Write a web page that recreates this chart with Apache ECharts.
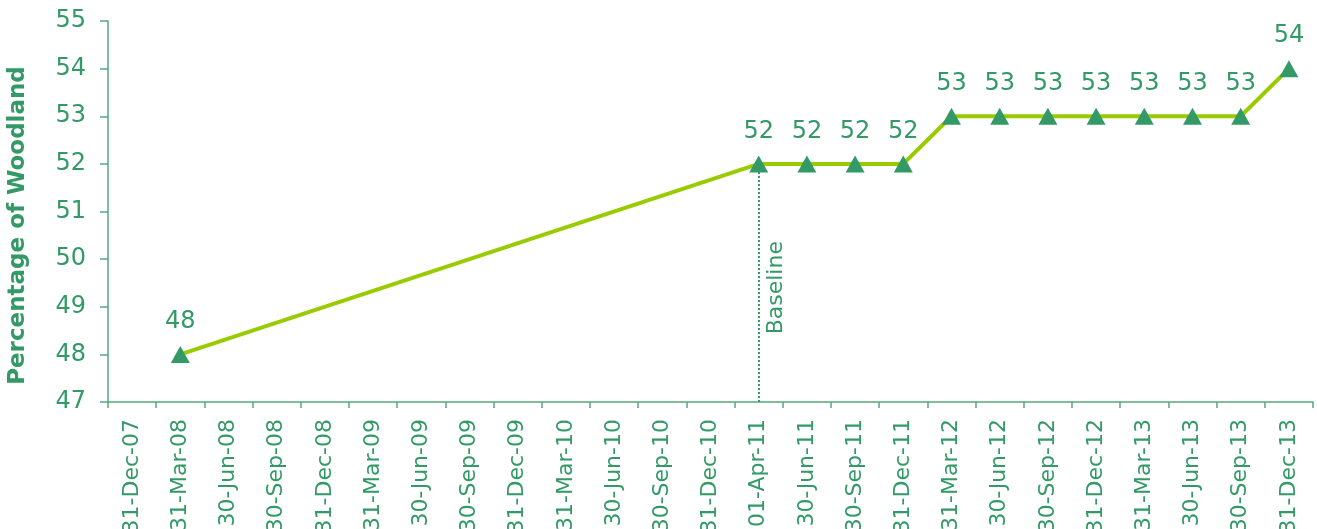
<!DOCTYPE html>
<html>
<head>
<meta charset="utf-8">
<script src="https://cdn.jsdelivr.net/npm/echarts@6/dist/echarts.min.js"></script>
<style>html,body{margin:0;padding:0;background:#fff;}#c{width:1317px;height:529px;}</style>
</head>
<body>
<div id="c"></div>
<script>
const categories = ['31-Dec-07','31-Mar-08','30-Jun-08','30-Sep-08','31-Dec-08','31-Mar-09','30-Jun-09','30-Sep-09','31-Dec-09','31-Mar-10','30-Jun-10','30-Sep-10','31-Dec-10','01-Apr-11','30-Jun-11','30-Sep-11','31-Dec-11','31-Mar-12','30-Jun-12','30-Sep-12','31-Dec-12','31-Mar-13','30-Jun-13','30-Sep-13','31-Dec-13'];
const woodland = [null,48,null,null,null,null,null,null,null,null,null,null,null,52,52,52,52,53,53,53,53,53,53,53,54];
const baselineCategory = '01-Apr-11';
const baselineLabel = 'Baseline';
const yAxisTitle = 'Percentage of Woodland';

const GREEN = '#339966';
const AXIS = '#55a87e';
const chart = echarts.init(document.getElementById('c'), null, {renderer:'canvas'});
chart.setOption({
  animation: false,
  grid: {left: 108, right: 4, top: 21, bottom: 127, containLabel: false, outerBoundsMode: 'none'},
  xAxis: {
    type: 'category', data: categories, boundaryGap: true,
    axisLine: {lineStyle: {color: AXIS, width: 1.5}},
    axisTick: {show: true, length: 6, lineStyle: {color: AXIS, width: 1.5}, alignWithLabel: false},
    axisLabel: {rotate: 90, interval: 0, margin: 17, color: GREEN, fontFamily: 'DejaVu Sans', fontSize: 22}
  },
  yAxis: {
    type: 'value', min: 47, max: 55, interval: 1,
    name: yAxisTitle, nameLocation: 'middle', nameGap: 78, nameRotate: 90,
    nameTextStyle: {color: GREEN, fontFamily: 'DejaVu Sans', fontWeight: 'bold', fontSize: 23, padding: [0, 28, 0, 0]},
    splitLine: {show: false},
    axisLine: {show: true, lineStyle: {color: AXIS, width: 1.5}},
    axisTick: {show: true, length: 8, lineStyle: {color: AXIS, width: 1.5}},
    axisLabel: {margin: 22, color: GREEN, fontFamily: 'DejaVu Sans', fontSize: 24}
  },
  series: [{
    type: 'line', data: woodland, connectNulls: true,
    lineStyle: {color: '#99cc00', width: 4},
    symbol: 'triangle', symbolSize: [19, 17],
    itemStyle: {color: GREEN},
    label: {show: true, position: 'top', distance: 12, color: GREEN, fontFamily: 'DejaVu Sans', fontSize: 24},
    markLine: {
      silent: true, symbol: 'none',
      lineStyle: {color: GREEN, type: 'dotted', width: 2},
      label: {show: false},
      data: [[{coord: [baselineCategory, 52]}, {coord: [baselineCategory, 47]}]]
    },
    z: 3
  }]
});
const p = chart.convertToPixel({seriesIndex: 0}, [baselineCategory, 49.4]);
chart.setOption({
  graphic: [{
    type: 'text', x: p[0] + 18, y: p[1], rotation: Math.PI / 2,
    style: {text: baselineLabel, fill: GREEN, font: '22px "DejaVu Sans"', align: 'center', verticalAlign: 'middle'}
  }]
});
</script>
</body>
</html>
